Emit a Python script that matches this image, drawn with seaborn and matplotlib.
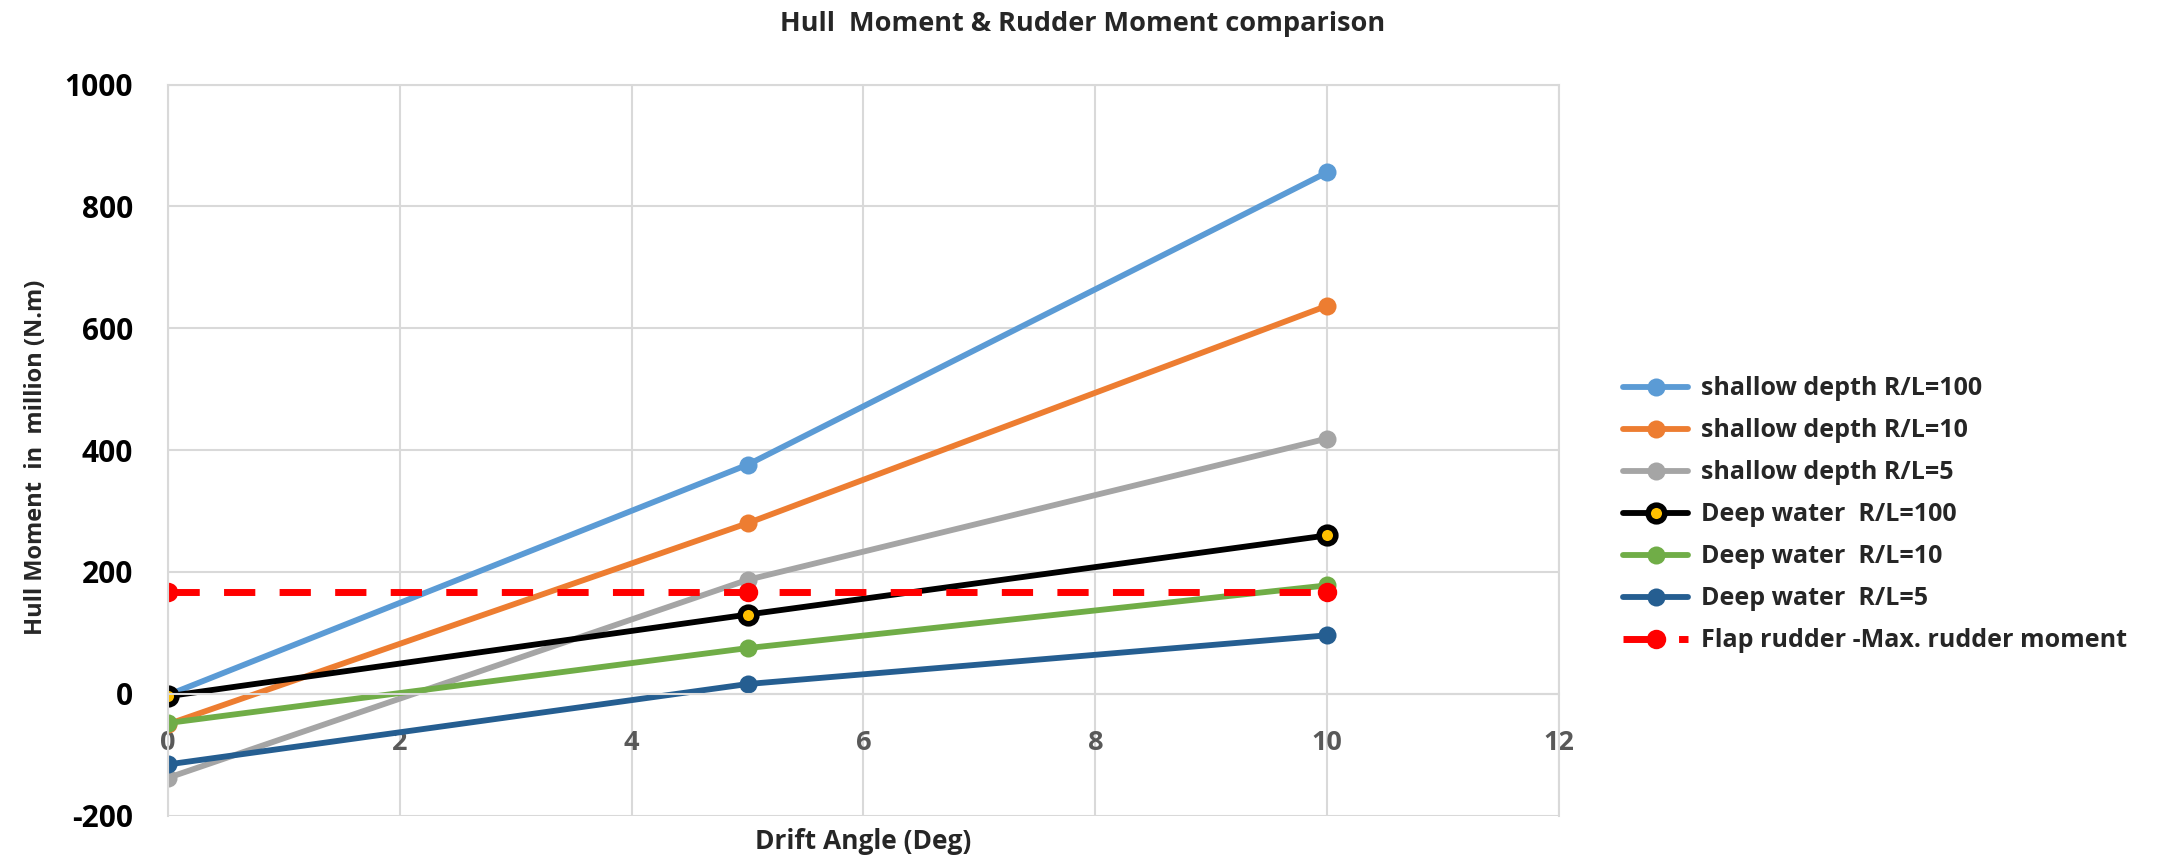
import numpy as np
import pandas as pd
import matplotlib
matplotlib.use("Agg")
import matplotlib.pyplot as plt
import seaborn as sns

# Drift angle (deg) and hull moments (million N.m)
drift_angle = [0, 5, 10]
shallow_100 = [-2, 376, 856]
shallow_10 = [-50, 280, 637]
shallow_5 = [-138, 187, 419]
deep_100 = [-4, 130, 260]
deep_10 = [-48, 75, 178]
deep_5 = [-116, 16, 96]
flap_rudder = [167, 167, 167]

labels = ["shallow depth R/L=100", "shallow depth R/L=10", "shallow depth R/L=5",
          "Deep water  R/L=100", "Deep water  R/L=10", "Deep water  R/L=5",
          "Flap rudder -Max. rudder moment"]
colors = ["#5b9bd5", "#ed7d31", "#a5a5a5", "#000000", "#70ad47", "#255e91", "#ff0000"]

sns.set_style("white")
plt.rcParams['font.family'] = ['Open Sans', 'DejaVu Sans']
plt.rcParams['font.weight'] = 'bold'
plt.rcParams['axes.unicode_minus'] = False

fig = plt.figure(figsize=(21.75, 8.59), dpi=100)
ax = fig.add_axes([0.0772, 0.0505, 0.6396, 0.851])

series = [shallow_100, shallow_10, shallow_5, deep_100, deep_10, deep_5, flap_rudder]
for vals, lab, col in zip(series, labels, colors):
    df = pd.DataFrame({"x": drift_angle, "y": vals})
    kw = dict(marker="o", markersize=13, markeredgewidth=0)
    if lab.startswith("Deep water  R/L=100"):
        kw = dict(marker="o", markersize=12, markerfacecolor="#ffc000",
                  markeredgecolor="black", markeredgewidth=4)
    if lab.startswith("Flap"):
        sns.lineplot(data=df, x="x", y="y", ax=ax, color=col,
                     linewidth=5, dashes=[(4.5, 3.5)], style=np.zeros(3),
                     markers=["o"], markersize=14, markeredgewidth=0, legend=False)
        ax.lines[-1].set_label(lab)
        continue
    sns.lineplot(data=df, x="x", y="y", ax=ax, color=col, label=lab,
                 linewidth=4.2, **kw)

ax.set_xlim(0, 12)
ax.set_ylim(-200, 1000)
ax.set_xticks(range(0, 13, 2))
ax.set_yticks(range(-200, 1001, 200))
ax.grid(True, color="#d9d9d9", linewidth=1.5)
ax.set_axisbelow(True)
for s in ["top", "right", "left"]:
    ax.spines[s].set_color("#d9d9d9")
    ax.spines[s].set_linewidth(1.5)
ax.spines["bottom"].set_position(("data", 0))
ax.spines["bottom"].set_color("#d9d9d9")
ax.spines["bottom"].set_linewidth(1.5)
ax.tick_params(axis="x", length=0, pad=26, labelsize=19.5, labelcolor="#595959")
ax.tick_params(axis="y", length=0, pad=25, labelsize=21.5, labelcolor="black")
for t in ax.get_xticklabels() + ax.get_yticklabels():
    t.set_fontweight("bold")

ax.set_xlabel("")
ax.set_ylabel("Hull Moment  in  million (N.m)", fontsize=17, fontweight="bold")
ax.yaxis.set_label_coords(-0.086, 0.49)
fig.text(0.397, 0.02, "Drift Angle (Deg)", ha="center", va="center",
         fontsize=19, fontweight="bold")
fig.text(0.4975, 0.972, "Hull  Moment & Rudder Moment comparison", ha="center",
         va="center", fontsize=19.5, fontweight="bold")

handles, labs = ax.get_legend_handles_labels()
ax.legend(handles, labs, loc="upper left", bbox_to_anchor=(0.7360, 0.588),
          bbox_transform=fig.transFigure, frameon=False,
          handlelength=2.6, handletextpad=0.5, labelspacing=0.68,
          prop={"weight": "bold", "size": 18})

fig.savefig("out.png", dpi=100)
